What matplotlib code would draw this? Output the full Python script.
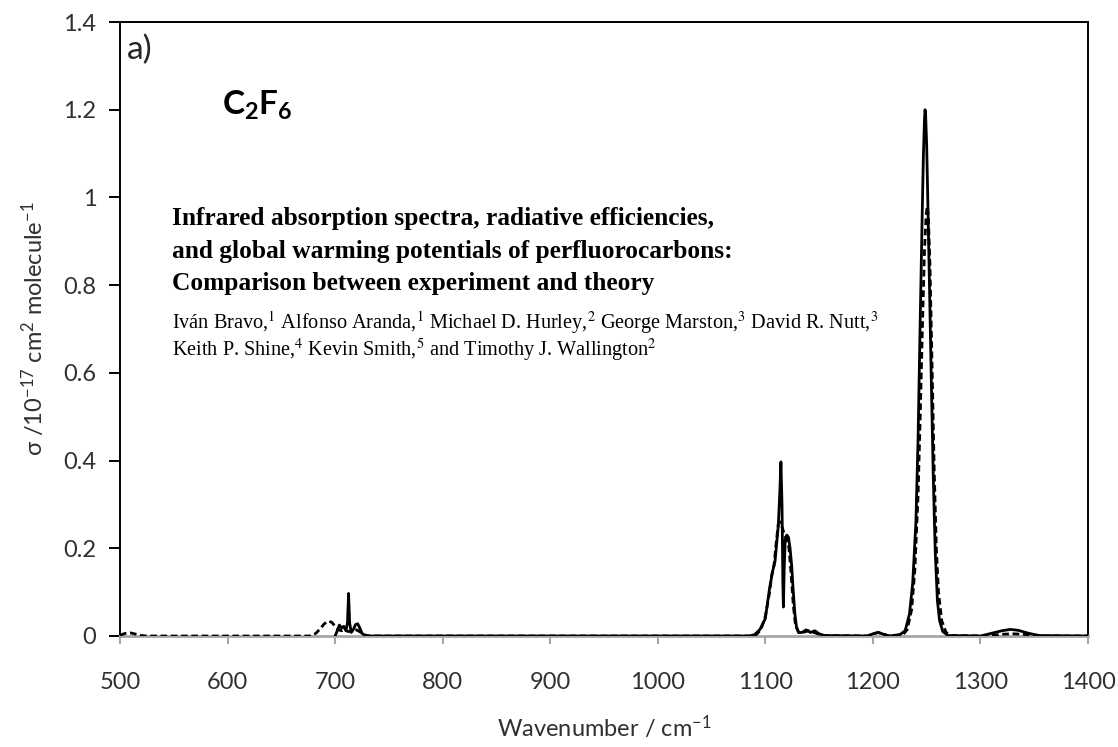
import matplotlib
matplotlib.use('Agg')
import matplotlib.pyplot as plt

plt.rcParams['font.family'] = ['Lato', 'DejaVu Sans']
plt.rcParams['mathtext.fontset'] = 'custom'
plt.rcParams['mathtext.rm'] = 'Lato'
plt.rcParams['mathtext.bf'] = 'Lato:bold'
plt.rcParams['mathtext.it'] = 'Lato:italic'

wn_exp = [700, 702, 704, 706, 708, 710, 711.5, 712.5, 713.5, 715, 717, 719, 721, 723, 725, 728, 732,
          1085, 1090, 1095, 1100, 1104, 1107, 1109, 1110.5, 1112, 1113.5, 1114.5, 1115.5, 1116.3, 1116.8,
          1117.5, 1118.5, 1120, 1121.5, 1123, 1124.5, 1126, 1127.5, 1129, 1131, 1134, 1138, 1142, 1146,
          1150, 1155,
          1195, 1200, 1205, 1210, 1215,
          1225, 1230, 1234, 1237, 1240, 1242, 1244, 1246, 1247, 1248, 1248.5, 1249, 1250, 1251, 1253,
          1254, 1255, 1256, 1257, 1258, 1260, 1262, 1265, 1270,
          1300, 1310, 1320, 1328, 1335, 1345, 1355, 1400]
sig_exp = [0.0, 0.012, 0.025, 0.018, 0.022, 0.012, 0.03, 0.097, 0.03, 0.008, 0.015, 0.026, 0.028, 0.018, 0.006, 0.001, 0.0,
           0.0, 0.003, 0.015, 0.04, 0.11, 0.15, 0.17, 0.21, 0.25, 0.33, 0.397, 0.30, 0.12, 0.066,
           0.15, 0.22, 0.23, 0.225, 0.20, 0.16, 0.10, 0.05, 0.02, 0.008, 0.008, 0.014, 0.008, 0.012,
           0.005, 0.001,
           0.0, 0.005, 0.008, 0.004, 0.0,
           0.003, 0.012, 0.05, 0.12, 0.26, 0.45, 0.72, 0.98, 1.10, 1.18, 1.20, 1.19, 1.12, 1.00, 0.75,
           0.62, 0.50, 0.38, 0.28, 0.19, 0.08, 0.035, 0.01, 0.001,
           0.0, 0.006, 0.012, 0.015, 0.013, 0.006, 0.001, 0.0]

# calculated cross section (dashed line)
wn_calc = [500, 505, 510, 515, 520, 525, 678, 682, 686, 690, 694, 697, 700, 703, 706, 709, 712, 716, 720,
           724, 728, 732,
           1088, 1092, 1096, 1100, 1104, 1106, 1108, 1110, 1112, 1114, 1116, 1118, 1120, 1122, 1124, 1126,
           1128, 1131, 1135, 1140, 1145, 1150, 1155,
           1195, 1200, 1205, 1210, 1215,
           1228, 1232, 1236, 1239, 1242, 1244, 1246, 1248, 1249.5, 1250.5, 1251.5, 1253, 1255, 1257, 1259,
           1261, 1264, 1268, 1273,
           1305, 1320, 1330, 1340, 1355, 1400]
sig_calc = [0.002, 0.006, 0.007, 0.004, 0.001, 0.0, 0.0, 0.006, 0.016, 0.028, 0.034, 0.031, 0.022, 0.014, 0.012,
            0.015, 0.010, 0.012, 0.014, 0.008, 0.002, 0.0,
            0.0, 0.004, 0.015, 0.045, 0.10, 0.14, 0.16, 0.21, 0.255, 0.26, 0.245, 0.23, 0.22, 0.20, 0.14, 0.07,
            0.025, 0.008, 0.008, 0.012, 0.008, 0.004, 0.001,
            0.0, 0.005, 0.008, 0.004, 0.0,
            0.003, 0.015, 0.06, 0.15, 0.32, 0.50, 0.70, 0.88, 0.96, 0.98, 0.96, 0.85, 0.62, 0.38, 0.20,
            0.10, 0.035, 0.008, 0.001,
            0.0, 0.004, 0.005, 0.004, 0.0, 0.0]

xticks = [500, 600, 700, 800, 900, 1000, 1100, 1200, 1300, 1400]
yticks = [0, 0.2, 0.4, 0.6, 0.8, 1.0, 1.2, 1.4]
ytick_labels = ['0', '0.2', '0.4', '0.6', '0.8', '1', '1.2', '1.4']

title_lines = ['Infrared absorption spectra, radiative efficiencies,',
               'and global warming potentials of perfluorocarbons:',
               'Comparison between experiment and theory']
author_lines = [r'Iván Bravo,$^1$ Alfonso Aranda,$^1$ Michael D. Hurley,$^2$ George Marston,$^3$ David R. Nutt,$^3$',
                r'Keith P. Shine,$^4$ Kevin Smith,$^5$ and Timothy J. Wallington$^2$']

W, H = 1118, 747
def fpos(x, y):
    return x / W, 1 - y / H

fig = plt.figure(figsize=(W / 100, H / 100), dpi=100)
ax = fig.add_axes([120 / W, 1 - 636 / H, 968 / W, 614 / H])

ax.plot(wn_calc, sig_calc, color='black', lw=2.0, dashes=(2.4, 1.3), zorder=3)
ax.plot(wn_exp, sig_exp, color='black', lw=2.0, zorder=4)

ax.set_xlim(500, 1400)
ax.set_ylim(0, 1.4)
ax.set_xticks(xticks)
ax.set_yticks(yticks)
ax.set_yticklabels(ytick_labels)

for s in ['left', 'top', 'right']:
    ax.spines[s].set_color('black')
    ax.spines[s].set_linewidth(1.4)
ax.spines['bottom'].set_color('#a6a6a6')
ax.spines['bottom'].set_linewidth(2)

ax.tick_params(axis='y', direction='out', length=8, width=1.4, color='black',
               pad=9, labelsize=17, labelcolor='#303030')
ax.tick_params(axis='x', direction='out', length=6, width=1.5, color='#a6a6a6',
               pad=20, labelsize=17, labelcolor='#303030')

ax.set_xlabel(r'Wavenumber / cm$^{-1}$', fontsize=17, color='#303030', labelpad=15)
ax.set_ylabel(r'σ /10$^{-17}$ cm$^{2}$ molecule$^{-1}$', fontsize=17, color='#303030', labelpad=12)

fig.text(*fpos(127, 59), 'a)', fontsize=24, color='#262626')
fig.text(*fpos(222, 115), r'$\mathbf{C_2F_6}$', fontsize=24, color='black')

for i, line in enumerate(title_lines):
    fig.text(*fpos(172, 225 + 32.5 * i), line, fontsize=18.3, fontweight='bold',
             family='Liberation Serif', color='black')
for i, line in enumerate(author_lines):
    fig.text(*fpos(172, 329 + 27 * i), line, fontsize=14.6, family='Liberation Serif',
             math_fontfamily='stix', color='black')

fig.savefig('out.png', dpi=100)
